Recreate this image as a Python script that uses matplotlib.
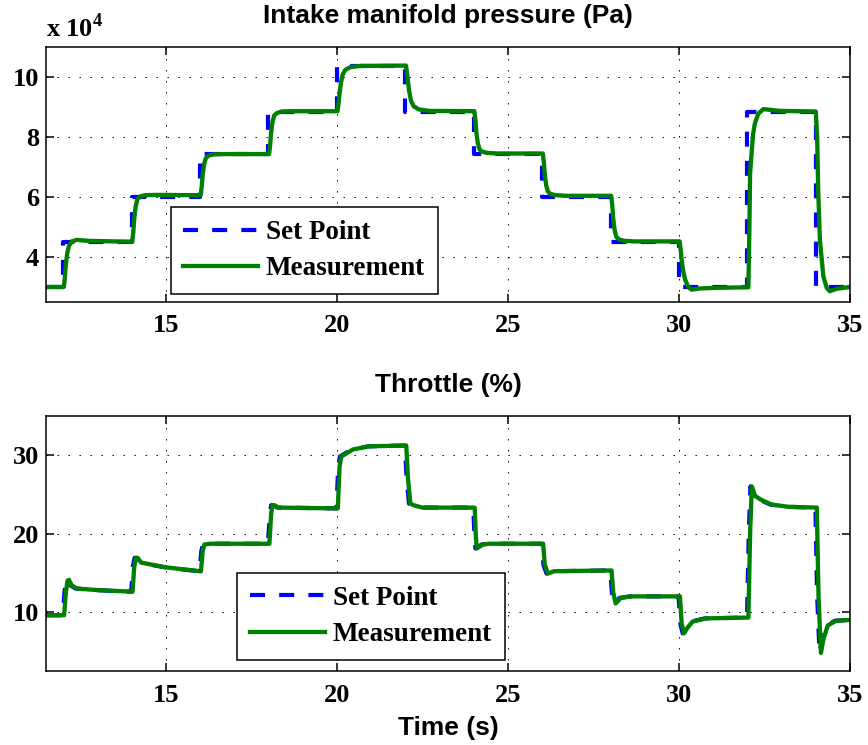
import matplotlib
matplotlib.use("Agg")
import matplotlib.pyplot as plt

# ---------------- data ----------------
# Intake manifold pressure set point (x 1e4 Pa), step changes
p_sp_t = [11.5, 12.0, 14.0, 16.0, 18.0, 20.0, 22.0, 24.0, 26.0, 28.0, 30.0, 32.0, 34.0, 35.0]
p_sp_v = [3.0, 4.5, 6.0, 7.43, 8.85, 10.38, 8.85, 7.45, 6.0, 4.5, 3.0, 8.85, 3.0, 3.0]

# Intake manifold pressure measurement (x 1e4 Pa)
p_ms_t = [11.5, 12.02, 12.05, 12.08, 12.12, 12.17, 12.25, 12.4, 12.7, 13.5, 14.0,
          14.02, 14.05, 14.08, 14.12, 14.17, 14.25, 14.4, 14.7, 16.0,
          16.02, 16.05, 16.08, 16.12, 16.17, 16.25, 16.4, 16.7, 18.0,
          18.02, 18.05, 18.08, 18.12, 18.17, 18.25, 18.4, 18.7, 20.0,
          20.02, 20.05, 20.08, 20.12, 20.17, 20.25, 20.4, 20.7, 22.0,
          22.02, 22.05, 22.08, 22.12, 22.17, 22.25, 22.4, 22.7, 24.0,
          24.02, 24.05, 24.08, 24.12, 24.17, 24.25, 24.4, 24.7, 26.0,
          26.02, 26.05, 26.08, 26.12, 26.17, 26.25, 26.4, 26.7, 28.0,
          28.02, 28.05, 28.08, 28.12, 28.17, 28.25, 28.4, 28.7, 30.0,
          30.02, 30.05, 30.08, 30.12, 30.18, 30.27, 30.37, 30.6, 31.0, 32.0,
          32.03, 32.06, 32.08, 32.13, 32.17, 32.22, 32.32, 32.47, 32.95, 34.0,
          34.04, 34.07, 34.12, 34.22, 34.32, 34.41, 34.61, 35.0]
p_ms_v = [3.0, 3.0, 3.3, 3.75, 4.12, 4.37, 4.52, 4.57, 4.54, 4.52, 4.51,
          4.51, 4.82, 5.29, 5.68, 5.92, 6.02, 6.06, 6.07, 6.06,
          6.06, 6.33, 6.75, 7.09, 7.29, 7.38, 7.42, 7.43, 7.43,
          7.43, 7.72, 8.15, 8.5, 8.72, 8.8, 8.85, 8.86, 8.86,
          8.86, 9.1, 9.45, 9.8, 10.08, 10.24, 10.33, 10.37, 10.38,
          10.38, 10.15, 9.85, 9.5, 9.2, 9.02, 8.92, 8.87, 8.86,
          8.86, 8.58, 8.15, 7.8, 7.59, 7.51, 7.47, 7.45, 7.45,
          7.45, 7.17, 6.74, 6.39, 6.18, 6.1, 6.06, 6.04, 6.04,
          6.04, 5.74, 5.28, 4.9, 4.67, 4.58, 4.54, 4.52, 4.52,
          4.52, 4.25, 3.9, 3.55, 3.25, 3.0, 2.91, 2.95, 2.97, 2.99,
          2.99, 5.0, 6.79, 7.56, 8.12, 8.45, 8.78, 8.93, 8.87, 8.85,
          8.0, 6.24, 4.57, 3.36, 2.97, 2.86, 2.94, 3.0]

# Throttle set point (%)
th_sp_t = [11.5, 11.99, 12.04, 12.09, 12.13, 12.21, 12.36, 12.96, 13.96,
           13.99, 14.04, 14.09, 14.14, 14.24, 14.96, 15.96,
           15.99, 16.04, 16.09, 16.26, 17.96,
           17.99, 18.04, 18.08, 18.14, 18.26, 19.96,
           19.99, 20.04, 20.09, 20.43, 20.91, 21.96,
           21.99, 22.04, 22.11, 22.21, 22.46, 23.96,
           23.99, 24.02, 24.05, 24.23, 24.41, 25.96,
           25.99, 26.04, 26.13, 26.31, 27.96,
           27.99, 28.04, 28.11, 28.26, 28.56, 29.96,
           29.99, 30.04, 30.11, 30.21, 30.36, 30.76, 31.99,
           32.04, 32.09, 32.13, 32.18, 32.36, 32.66, 33.16, 33.99,
           34.04, 34.11, 34.18, 34.31, 34.56, 35.0]
th_sp_v = [9.6, 9.6, 12.5, 14.0, 14.1, 13.4, 13.0, 12.8, 12.6,
           12.6, 15.8, 16.9, 16.9, 16.3, 15.7, 15.2,
           15.2, 17.8, 18.6, 18.7, 18.7,
           18.7, 22.5, 23.6, 23.6, 23.3, 23.2,
           23.2, 28.5, 29.8, 30.7, 31.1, 31.2,
           31.2, 27.0, 23.8, 23.6, 23.3, 23.3,
           23.3, 20.0, 18.1, 18.6, 18.7, 18.7,
           18.7, 16.0, 14.9, 15.2, 15.3,
           15.3, 12.5, 11.1, 11.8, 12.0, 12.0,
           12.0, 8.5, 7.3, 8.0, 8.8, 9.2, 9.3,
           20.0, 26.0, 25.5, 24.8, 24.3, 23.7, 23.4, 23.3,
           12.0, 4.8, 6.5, 8.3, 8.9, 9.0]

# Throttle measurement (%)
th_ms_t = [11.5, 12.03, 12.08, 12.13, 12.17, 12.25, 12.4, 13.0, 14.0,
           14.03, 14.08, 14.13, 14.18, 14.28, 15.0, 16.0,
           16.03, 16.08, 16.13, 16.3, 18.0,
           18.03, 18.08, 18.12, 18.18, 18.3, 20.0,
           20.03, 20.08, 20.13, 20.47, 20.95, 22.0,
           22.03, 22.08, 22.15, 22.25, 22.5, 24.0,
           24.03, 24.06, 24.09, 24.27, 24.45, 26.0,
           26.03, 26.08, 26.17, 26.35, 28.0,
           28.03, 28.08, 28.15, 28.3, 28.6, 30.0,
           30.03, 30.08, 30.15, 30.25, 30.4, 30.8, 32.03,
           32.08, 32.13, 32.17, 32.22, 32.4, 32.7, 33.2, 34.03,
           34.08, 34.15, 34.22, 34.35, 34.6, 35.0]
th_ms_v = [9.6, 9.6, 12.5, 14.0, 14.1, 13.4, 13.0, 12.8, 12.6,
           12.6, 15.8, 16.9, 16.9, 16.3, 15.7, 15.2,
           15.2, 17.8, 18.6, 18.7, 18.7,
           18.7, 22.5, 23.6, 23.6, 23.3, 23.2,
           23.2, 28.5, 29.8, 30.7, 31.1, 31.2,
           31.2, 27.0, 23.8, 23.6, 23.3, 23.3,
           23.3, 20.0, 18.1, 18.6, 18.7, 18.7,
           18.7, 16.0, 14.9, 15.2, 15.3,
           15.3, 12.5, 11.1, 11.8, 12.0, 12.0,
           12.0, 8.5, 7.3, 8.0, 8.8, 9.2, 9.3,
           20.0, 26.0, 25.5, 24.8, 24.3, 23.7, 23.4, 23.3,
           12.0, 4.8, 6.5, 8.3, 8.9, 9.0]

x_ticks = [15, 20, 25, 30, 35]
p_ticks = [4, 6, 8, 10]
th_ticks = [10, 20, 30]
legend_labels = ["Set Point", "Measurement"]
titles = ["Intake manifold pressure (Pa)", "Throttle (%)"]
x_label = "Time (s)"

# ---------------- style ----------------
plt.rcParams.update({
    "font.family": ["Liberation Serif", "DejaVu Serif"],
    "font.weight": "bold",
    "font.size": 19,
    "mathtext.fontset": "custom",
    "mathtext.rm": "Liberation Serif",
    "mathtext.bf": "Liberation Serif:bold",
    "axes.linewidth": 1.1,
})

W, H = 868, 745
fig = plt.figure(figsize=(W / 100, H / 100), dpi=100)
ax1 = fig.add_axes([46 / W, 1 - 302 / H, 804 / W, 255 / H])
ax2 = fig.add_axes([46 / W, 1 - 671 / H, 804 / W, 255.3 / H])

BLUE = "#0000ff"
GREEN = "#008000"
sans = ["Liberation Sans", "DejaVu Sans"]
serif = ["Liberation Serif", "DejaVu Serif"]


def draw(ax, sp_t, sp_v, ms_t, ms_v, steps):
    kw = dict(drawstyle="steps-post") if steps else {}
    ax.plot(sp_t, sp_v, color=BLUE, linewidth=3.0, linestyle=(0, (3.6, 3.4)),
            label=legend_labels[0], **kw)
    ax.plot(ms_t, ms_v, color=GREEN, linewidth=3.1, label=legend_labels[1],
            solid_joinstyle="round")


def style(ax, ylim, yticks):
    ax.set_xlim(11.5, 35)
    ax.set_ylim(*ylim)
    ax.set_xticks(x_ticks)
    ax.set_yticks(yticks)
    ax.tick_params(direction="in", top=True, right=True, length=6, width=1.1,
                   labelsize=19, pad=9)
    ax.tick_params(axis="y", pad=5)
    ax.grid(True, color="k", linestyle=(0, (1.4, 9.6)), linewidth=0.72)
    ax.set_axisbelow(True)
    for lab in ax.get_xticklabels() + ax.get_yticklabels():
        lab.set_fontweight("bold")
        lab.set_family(serif)


def legend(ax, anchor):
    leg = ax.legend(loc="upper left", bbox_to_anchor=anchor, borderaxespad=0,
                    frameon=True, fancybox=False, edgecolor="k", framealpha=1,
                    handlelength=2.75, handletextpad=0.3, borderpad=0.47,
                    labelspacing=0.42,
                    prop={"family": serif, "weight": "bold", "size": 19.5})
    leg.get_frame().set_linewidth(1.1)


draw(ax1, p_sp_t, p_sp_v, p_ms_t, p_ms_v, True)
style(ax1, (2.5, 11), p_ticks)
ax1.set_title(titles[0], family=sans, fontweight="bold", fontsize=19, pad=17)
ax1.text(0.0, 1.04, r"x 10$^{4}$", transform=ax1.transAxes, ha="left",
         va="baseline", family=serif, fontweight="bold", fontsize=19)
legend(ax1, (0.155, 0.371))

draw(ax2, th_sp_t, th_sp_v, th_ms_t, th_ms_v, False)
style(ax2, (2.5, 35), th_ticks)
ax2.set_title(titles[1], family=sans, fontweight="bold", fontsize=19, pad=17)
ax2.set_xlabel(x_label, family=sans, fontweight="bold", fontsize=19, labelpad=7)
legend(ax2, (0.238, 0.383))

fig.savefig("out.png", dpi=100)
